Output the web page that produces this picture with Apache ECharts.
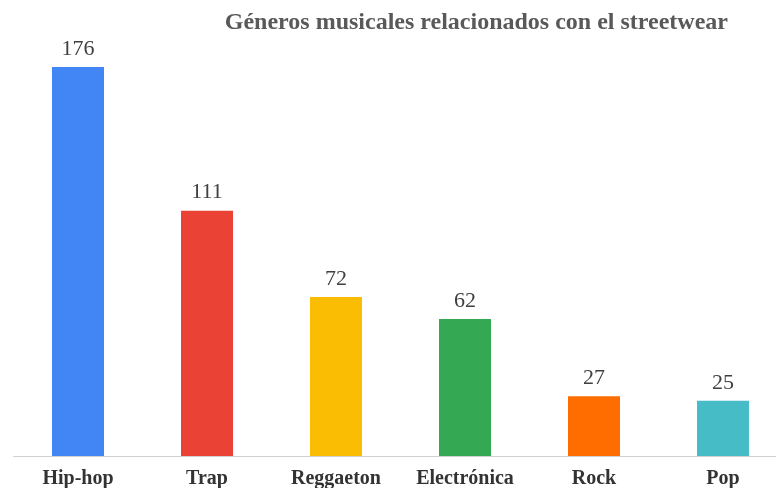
<!DOCTYPE html>
<html>
<head>
<meta charset="utf-8">
<script src="https://cdn.jsdelivr.net/npm/echarts@6/dist/echarts.min.js"></script>
<style>html,body{margin:0;padding:0;background:#fff}#c{width:776px;height:488px}</style>
</head>
<body>
<div id="c"></div>
<script>
const categories = ['Hip-hop', 'Trap', 'Reggaeton', 'Electrónica', 'Rock', 'Pop'];
const values = [176, 111, 72, 62, 27, 25];
const colors = ['#4285F4', '#EA4335', '#FBBC04', '#34A853', '#FF6D01', '#46BDC6'];
const titleText = 'Géneros musicales relacionados con el streetwear';

const chart = echarts.init(document.getElementById('c'));
chart.setOption({
  animation: false,
  title: {
    text: titleText,
    right: 43,
    top: 6,
    textStyle: { fontFamily: 'Liberation Serif', fontWeight: 'bold', fontSize: 24, color: '#595959' }
  },
  grid: { left: 13.5, width: 774, top: 14, bottom: 32, containLabel: false, outerBoundsMode: 'none' },
  xAxis: {
    type: 'category',
    data: categories,
    axisLine: { lineStyle: { color: '#d0d0d0', width: 1 } },
    axisTick: { show: false },
    axisLabel: { fontFamily: 'Liberation Serif', fontWeight: 'bold', fontSize: 20, color: '#333', margin: 13 }
  },
  yAxis: { type: 'value', min: 0, max: 200, show: false, splitLine: { show: false } },
  series: [{
    type: 'bar',
    barWidth: 52,
    data: values.map((v, i) => ({ value: v, itemStyle: { color: colors[i] } })),
    label: { show: true, position: 'top', distance: 7, fontFamily: 'Liberation Serif', fontSize: 22, color: '#404040' }
  }]
});
</script>
</body>
</html>
